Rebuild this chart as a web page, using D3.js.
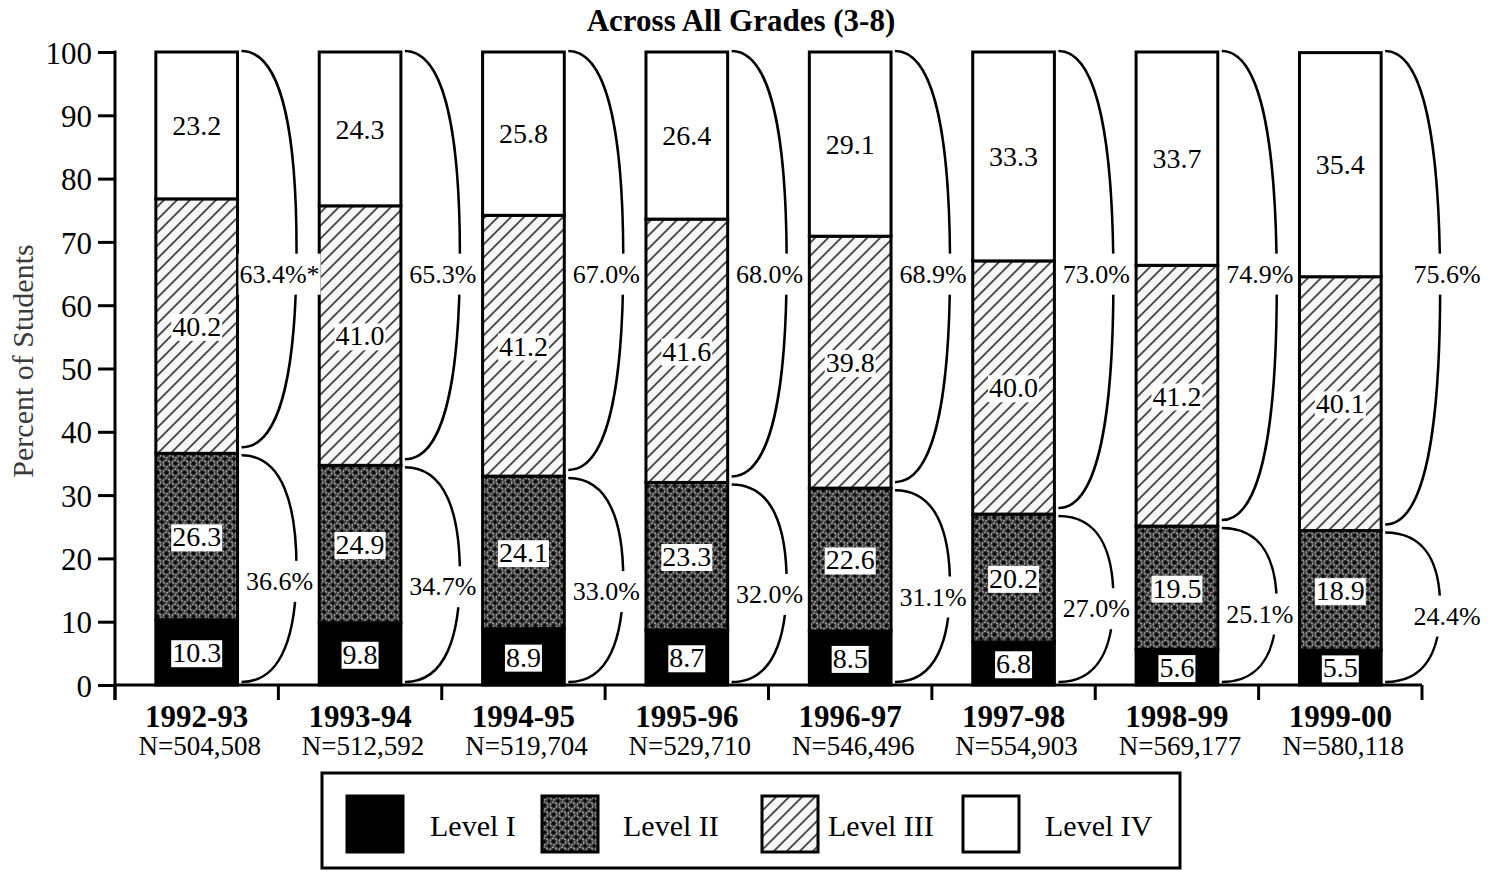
<!DOCTYPE html>
<html>
<head>
<meta charset="utf-8">
<script src="https://cdn.jsdelivr.net/npm/d3@7"></script>
<style>
  html, body { margin: 0; padding: 0; background: #fff; }
  svg { display: block; }
  text { font-family: "Liberation Serif", "Times New Roman", Times, serif; fill: #000; }
</style>
</head>
<body>
<svg id="chart" width="1503" height="872"></svg>
<script>
// ---- data ----
const categories = ["1992-93", "1993-94", "1994-95", "1995-96", "1996-97", "1997-98", "1998-99", "1999-00"];
const nLabels = ["N=504,508", "N=512,592", "N=519,704", "N=529,710", "N=546,496", "N=554,903", "N=569,177", "N=580,118"];
const levelNames = ["Level I", "Level II", "Level III", "Level IV"];
const level1 = [10.3, 9.8, 8.9, 8.7, 8.5, 6.8, 5.6, 5.5];
const level2 = [26.3, 24.9, 24.1, 23.3, 22.6, 20.2, 19.5, 18.9];
const level3 = [40.2, 41.0, 41.2, 41.6, 39.8, 40.0, 41.2, 40.1];
const level4 = [23.2, 24.3, 25.8, 26.4, 29.1, 33.3, 33.7, 35.4];
const upperTotals = [63.4, 65.3, 67.0, 68.0, 68.9, 73.0, 74.9, 75.6];
const lowerTotals = [36.6, 34.7, 33.0, 32.0, 31.1, 27.0, 25.1, 24.4];
const footnoteMarks = ["*", "", "", "", "", "", "", ""];
const yTicks = [0, 10, 20, 30, 40, 50, 60, 70, 80, 90, 100];
const titleText = "Across All Grades (3-8)";
const yTitle = "Percent of Students";

(function () {
// ---- layout ----
const svg = d3.select("#chart");
const mLeft = 115, mRight = 1422, mTop = 52, mBottom = 685;

const x = d3.scaleBand().domain(categories).range([mLeft, mRight]).paddingInner(0.5).paddingOuter(0.25);
const y = d3.scaleLinear().domain([0, 100]).range([mBottom, mTop]);

// patterns
const defs = svg.append("defs");
const p2 = defs.append("pattern").attr("id", "lvl2").attr("patternUnits", "userSpaceOnUse")
  .attr("width", 9).attr("height", 9);
p2.append("rect").attr("width", 9).attr("height", 9).attr("fill", "#3c3c3c");
p2.append("circle").attr("cx", 4.5).attr("cy", 4.5).attr("r", 3.4).attr("fill", "none")
  .attr("stroke", "#a8a8a8").attr("stroke-width", 1.2).attr("stroke-dasharray", "2.2,1.3");
p2.append("path").attr("d", "M4.5,2.8 V6.2 M2.8,4.5 H6.2").attr("stroke", "#000").attr("stroke-width", 1.4);
p2.append("path").attr("d", "M0,0 L1.5,0 M0,0 L0,1.5 M9,0 L7.5,0 M9,0 V1.5 M0,9 H1.5 M0,9 V7.5 M9,9 H7.5 M9,9 V7.5")
  .attr("stroke", "#000").attr("stroke-width", 1.6);

const hs = 13;
const p3 = defs.append("pattern").attr("id", "lvl3").attr("patternUnits", "userSpaceOnUse")
  .attr("width", hs).attr("height", hs);
p3.append("rect").attr("width", hs).attr("height", hs).attr("fill", "#f7f7f7");
p3.append("path").attr("d", `M0,${hs} L${hs},0 M-2,2 L2,-2 M${hs - 2},${hs + 2} L${hs + 2},${hs - 2}`)
  .attr("stroke", "#444").attr("stroke-width", 1.8);

const fills = ["#000", "url(#lvl2)", "url(#lvl3)", "#fff"];

// title
svg.append("text").attr("x", 741).attr("y", 31).attr("text-anchor", "middle")
  .style("font-size", "31px").style("font-weight", "bold").text(titleText);

// y axis title
svg.append("text").attr("transform", "translate(33,361) rotate(-90)")
  .attr("text-anchor", "middle").style("font-size", "30px").style("fill", "#3a3a3a").text(yTitle);

// y axis
const yAxis = d3.axisLeft(y).tickValues(yTicks).tickSize(17).tickSizeOuter(0).tickPadding(6);
const gy = svg.append("g").attr("transform", `translate(${mLeft},0)`).call(yAxis);
gy.select(".domain").attr("stroke-width", 3).attr("d", `M0,${mTop - 1.5}V${mBottom + 15}`);
gy.selectAll(".tick line").attr("stroke-width", 3);
gy.selectAll(".tick text").style("font-size", "31px").style("font-family", '"Liberation Serif", "Times New Roman", serif')
  .attr("dy", "0.36em");

// x axis line and ticks at band boundaries
const step = x.step();
svg.append("line").attr("x1", mLeft).attr("x2", mRight).attr("y1", mBottom).attr("y2", mBottom)
  .attr("stroke", "#000").attr("stroke-width", 3);
const bounds = categories.map(c => x(c) - step * 0.25).concat([mRight]);
svg.selectAll(".xtick").data(bounds).join("line").attr("class", "xtick")
  .attr("x1", d => d).attr("x2", d => d).attr("y1", mBottom).attr("y2", mBottom + 15)
  .attr("stroke", "#000").attr("stroke-width", 3);

// x labels
svg.selectAll(".yr").data(categories).join("text").attr("class", "yr")
  .attr("x", d => x(d) + x.bandwidth() / 2).attr("y", 727).attr("text-anchor", "middle")
  .style("font-size", "31px").style("font-weight", "bold").text(d => d);
svg.selectAll(".nl").data(nLabels).join("text").attr("class", "nl")
  .attr("x", (d, i) => x(categories[i]) + x.bandwidth() / 2 + 3).attr("y", 755).attr("text-anchor", "middle")
  .style("font-size", "27px").text(d => d);

// stacked bars
const rows = categories.map((c, i) => ({ cat: c, l1: level1[i], l2: level2[i], l3: level3[i], l4: level4[i] }));
const stack = d3.stack().keys(["l1", "l2", "l3", "l4"]);
const series = stack(rows);

series.forEach((s, k) => {
  const g = svg.append("g");
  g.selectAll("rect").data(s).join("rect")
    .attr("x", d => x(d.data.cat))
    .attr("width", x.bandwidth())
    .attr("y", d => y(Math.min(100, d[1])))
    .attr("height", d => y(d[0]) - y(Math.min(100, d[1])))
    .attr("fill", fills[k]).attr("stroke", "#000").attr("stroke-width", 3);
});

// segment labels with white boxes
series.forEach((s, k) => {
  s.forEach((d, i) => {
    const cx = x(d.data.cat) + x.bandwidth() / 2;
    const cy = y((d[0] + Math.min(100, d[1])) / 2);
    const g = svg.append("g");
    const t = g.append("text").attr("x", cx).attr("y", cy).attr("dy", "0.35em").attr("text-anchor", "middle")
      .style("font-size", "28px").text(d.data["l" + (k + 1)].toFixed(1));
    if (k < 3) {
      const bb = t.node().getBBox();
      g.insert("rect", "text").attr("x", bb.x - 1).attr("y", bb.y + 3).attr("width", bb.width + 2)
        .attr("height", bb.height - 4).attr("fill", "#fff");
    }
  });
});

// braces
function bracePath(x0, yT, yB, w) {
  const h = yB - yT, yM = (yT + yB) / 2;
  return `M${x0},${yT} C${x0 + 0.75 * w},${yT} ${x0 + w},${yT + 0.22 * h} ${x0 + w},${yM} ` +
         `C${x0 + w},${yB - 0.22 * h} ${x0 + 0.75 * w},${yB} ${x0},${yB}`;
}
categories.forEach((c, i) => {
  const xr = x(c) + x.bandwidth();
  const boundary = level1[i] + level2[i];
  const w = 55;
  const labelOff = i === categories.length - 1 ? 66 : 42;
  svg.append("path").attr("d", bracePath(xr + 4, y(100) - 1, y(boundary) - 6, w))
    .attr("fill", "none").attr("stroke", "#000").attr("stroke-width", 2.5);
  svg.append("path").attr("d", bracePath(xr + 4, y(boundary) + 2, y(0) - 3, w))
    .attr("fill", "none").attr("stroke", "#000").attr("stroke-width", 2.5);

  const labels = [
    { txt: upperTotals[i].toFixed(1) + "%" + footnoteMarks[i], v: 65 },
    { txt: lowerTotals[i].toFixed(1) + "%", v: lowerTotals[i] * 0.45 }
  ];
  labels.forEach(L => {
    const g = svg.append("g");
    const t = g.append("text").attr("x", xr + labelOff)
      .attr("y", y(L.v)).attr("dy", "0.35em").attr("text-anchor", "middle")
      .style("font-size", "26px").text(L.txt);
    const bb = t.node().getBBox();
    g.insert("rect", "text").attr("x", bb.x - 1).attr("y", bb.y - 6).attr("width", bb.width + 2)
      .attr("height", bb.height + 12).attr("fill", "#fff");
  });
});

// legend
svg.append("rect").attr("x", 322).attr("y", 773).attr("width", 858).attr("height", 95)
  .attr("fill", "#fff").attr("stroke", "#000").attr("stroke-width", 3);
const swX = [347, 542, 762, 963];
const txX = [430, 623, 828, 1045];
levelNames.forEach((n, k) => {
  svg.append("rect").attr("x", swX[k]).attr("y", 796).attr("width", 56).attr("height", 56)
    .attr("fill", fills[k]).attr("stroke", "#000").attr("stroke-width", 3);
  svg.append("text").attr("x", txX[k]).attr("y", 836).style("font-size", "30px").text(n);
});
})();
</script>
</body>
</html>
